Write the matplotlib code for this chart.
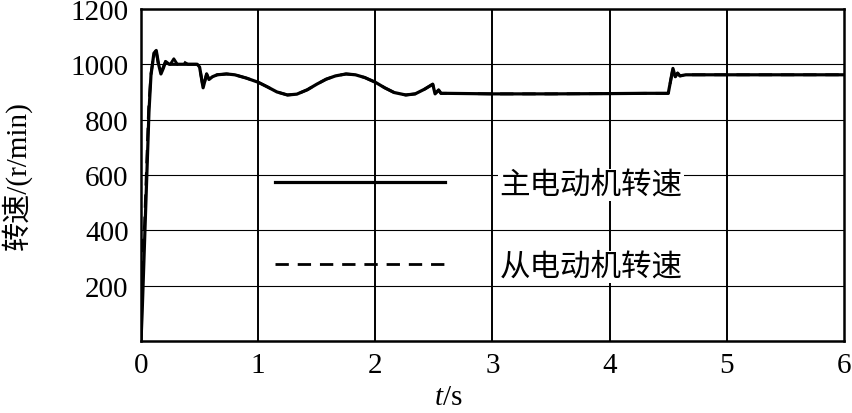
import matplotlib
matplotlib.use("Agg")
import matplotlib.pyplot as plt

plt.rcParams['font.family'] = ['Liberation Serif', 'Noto Sans CJK SC']
plt.rcParams['mathtext.fontset'] = 'custom'
plt.rcParams['mathtext.it'] = 'Liberation Serif:italic'
plt.rcParams['mathtext.rm'] = 'Liberation Serif'

# master motor speed (r/min) vs time (s)
t_main = [0, 0.01, 0.034, 0.068, 0.085, 0.11, 0.13, 0.15, 0.17, 0.19, 0.21, 0.24,
          0.30, 0.40, 0.48, 0.50, 0.53, 0.56, 0.58, 0.61, 0.65, 0.73, 0.80, 0.90,
          1.00, 1.08, 1.16, 1.25, 1.33, 1.42, 1.50, 1.58, 1.66, 1.75, 1.83, 1.91,
          2.00, 2.08, 2.16, 2.26, 2.34, 2.42, 2.49, 2.51, 2.54, 2.56, 2.60, 3.00,
          3.50, 4.00, 4.30, 4.50, 4.54, 4.56, 4.58, 4.60, 4.65, 5.00, 6.00]
v_main = [0, 105, 405, 828, 960, 1040, 1050, 1000, 965, 985, 1010, 1000,
          1000, 1000, 1000, 990, 915, 965, 945, 955, 962, 965, 962, 950,
          935, 918, 900, 889, 892, 908, 928, 946, 958, 965, 962, 952,
          935, 915, 898, 889, 893, 910, 928, 893, 907, 895, 895, 893,
          893, 894, 895, 895, 985, 955, 968, 958, 962, 962, 962]

# slave motor speed, nearly on top of the master one
t_slave = [0, 0.005, 0.03, 0.065, 0.085, 0.11, 0.13, 0.15, 0.17, 0.19, 0.22,
           0.25, 0.28, 0.31, 0.34, 0.40, 0.48, 0.50, 0.53, 0.56, 0.58, 0.61,
           0.65, 0.73, 0.80, 0.90, 1.00, 1.08, 1.16, 1.25, 1.33, 1.42, 1.50,
           1.58, 1.66, 1.75, 1.83, 1.91, 2.00, 2.08, 2.16, 2.26, 2.34, 2.42,
           2.49, 2.51, 2.54, 2.56, 2.60, 3.00, 3.50, 4.00, 4.30, 4.50, 4.54,
           4.56, 4.58, 4.60, 4.65, 5.00, 6.00]
v_slave = [0, 280, 420, 840, 965, 1035, 1045, 995, 970, 990, 1020,
           1000, 1020, 1000, 1015, 1000, 1000, 990, 915, 965, 945, 955,
           962, 965, 962, 950, 935, 918, 900, 889, 892, 908, 928,
           946, 958, 965, 962, 952, 935, 915, 898, 889, 893, 910,
           928, 893, 907, 895, 895, 893, 893, 894, 895, 895, 985,
           955, 968, 958, 962, 962, 962]

x_ticks = [0, 1, 2, 3, 4, 5, 6]
y_ticks = [200, 400, 600, 800, 1000, 1200]

fig = plt.figure(figsize=(8.52, 4.14), dpi=100)
ax = fig.add_axes([0.1655, 0.174, 0.8251, 0.802])

ax.plot(t_main, v_main, color='black', lw=2.3, label='主电动机转速')
ax.plot(t_slave, v_slave, color='black', lw=2.0, dashes=(4.8, 3.2), label='从电动机转速')

ax.set_xlim(0, 6)
ax.set_ylim(0, 1200)
ax.set_xticks(x_ticks)
ax.set_yticks(y_ticks)
ax.tick_params(axis='both', length=0, labelsize=21)
ax.tick_params(axis='x', pad=8)
ax.tick_params(axis='y', pad=9)

# grid: vertical a bit heavier than horizontal
for xv in x_ticks[1:-1]:
    ax.axvline(xv, color='black', lw=1.4, zorder=0)
for yv in y_ticks[:-1]:
    ax.axhline(yv, color='black', lw=0.8, zorder=0)

for s in ax.spines.values():
    s.set_linewidth(1.8)

ax.set_xlabel('$t$/s', fontsize=21)
ax.xaxis.set_label_coords(0.437, -0.13)
ax.set_ylabel('转速/(r/min)', fontsize=21)
ax.yaxis.set_label_coords(-0.155, 0.5)

leg = ax.legend(loc='upper left', bbox_to_anchor=(0.1906, 0.5135), frameon=False,
                fontsize=22, handlelength=5.55, handletextpad=1.8, labelspacing=1.75,
                borderpad=0, borderaxespad=0)
for txt in leg.get_texts():
    txt.set_bbox(dict(facecolor='white', edgecolor='none', pad=1))

fig.savefig('out.png', dpi=100)
